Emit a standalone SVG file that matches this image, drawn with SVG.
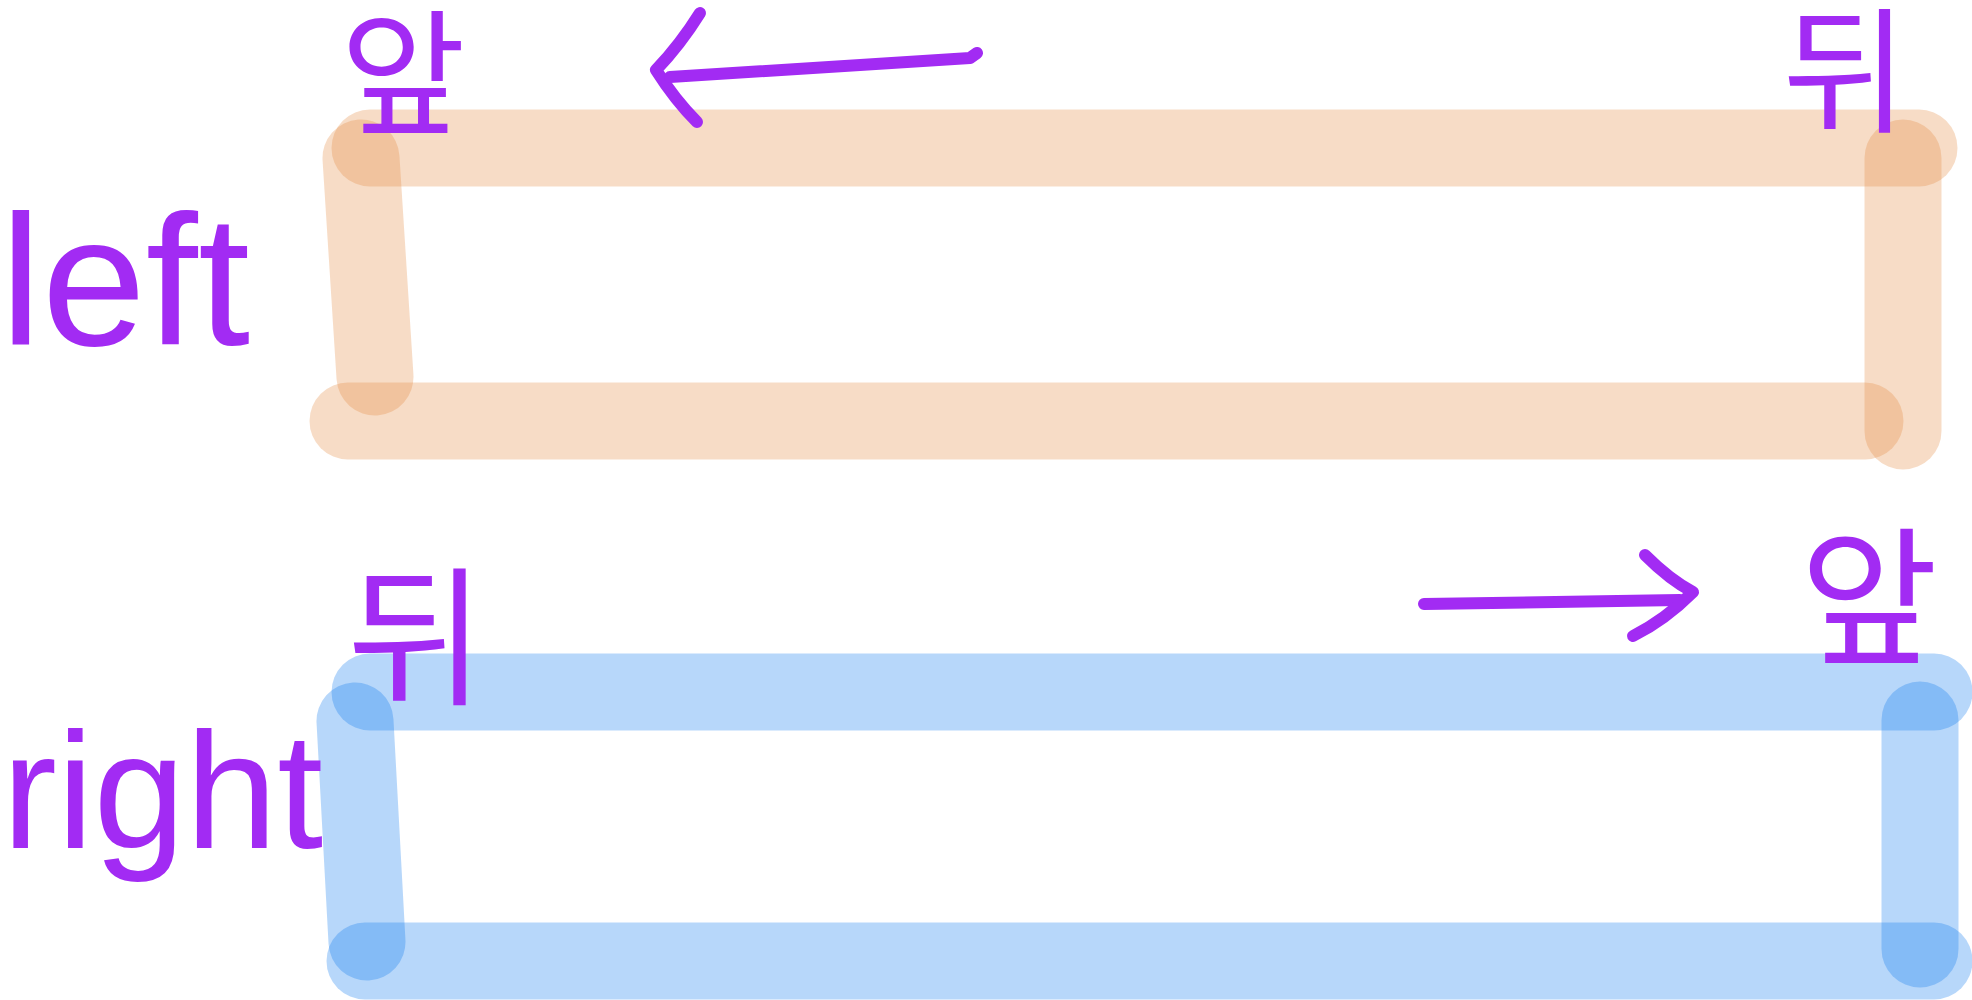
<svg xmlns="http://www.w3.org/2000/svg" width="1972" height="1000" viewBox="0 0 1972 1000">
<style>
.bar-o{stroke:rgb(228,138,65);stroke-opacity:0.3;stroke-width:77;stroke-linecap:round;fill:none}
.bar-b{stroke:rgb(18,122,238);stroke-opacity:0.3;stroke-width:77;stroke-linecap:round;fill:none}
.ink{stroke:#a22bf3;stroke-width:12;stroke-linecap:round;stroke-linejoin:round;fill:none}
.lbl{fill:#a22bf3;font-family:"Liberation Sans",Arial,sans-serif}
.ko{fill:#a22bf3;font-family:"Noto Sans CJK KR","Noto Sans",sans-serif;text-anchor:middle}
</style>
<rect width="1972" height="1000" fill="#ffffff"/>
<g id="box-orange">
<line class="bar-o" x1="370" y1="148" x2="1919" y2="148"/>
<line class="bar-o" x1="361" y1="158" x2="375" y2="377"/>
<line class="bar-o" x1="348" y1="421" x2="1865" y2="421"/>
<line class="bar-o" x1="1903" y1="158" x2="1903" y2="431"/>
</g>
<g id="box-blue">
<line class="bar-b" x1="370" y1="692" x2="1934" y2="692"/>
<line class="bar-b" x1="355" y1="721" x2="367" y2="942"/>
<line class="bar-b" x1="365" y1="961" x2="1934" y2="961"/>
<line class="bar-b" x1="1920" y1="720" x2="1920" y2="949"/>
</g>
<g id="label-left"><text class="lbl" x="0" y="345" font-size="185" textLength="250" lengthAdjust="spacingAndGlyphs">left</text></g>
<g id="label-right"><text class="lbl" x="2" y="848" font-size="165" textLength="321" lengthAdjust="spacingAndGlyphs">right</text></g>
<g id="label-front-top"><text class="ko" x="403" y="124" font-size="136">앞</text></g>
<g id="label-back-top"><text class="ko" x="1845" y="122" font-size="136">뒤</text></g>
<g id="label-back-bottom"><text class="ko" x="416" y="693" font-size="150">뒤</text></g>
<g id="label-front-bottom"><text class="ko" x="1869" y="653" font-size="150">앞</text></g>
<g id="connectors">
<path class="ink" d="M700 13 Q680 45 656 70 Q675 100 697 122"/>
<path class="ink" d="M670 77 Q820 67 970 58 L977 53"/>
<path class="ink" d="M1424 604 L1680 600"/>
<path class="ink" d="M1645 555 Q1670 580 1693 592 Q1665 620 1633 636"/>
</g>
</svg>
